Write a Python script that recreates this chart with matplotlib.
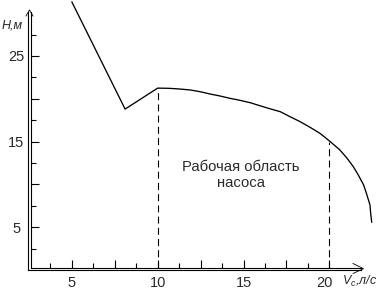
import matplotlib
matplotlib.use('Agg')
import matplotlib.pyplot as plt
from matplotlib.transforms import ScaledTranslation

plt.rcParams['font.family'] = ['Liberation Sans', 'DejaVu Sans']
plt.rcParams['mathtext.fontset'] = 'custom'
plt.rcParams['mathtext.rm'] = 'Liberation Sans'
plt.rcParams['mathtext.it'] = 'Liberation Sans:italic'

# ---- data ----
curve_v = [5.0, 8.1, 10.0, 10.7, 11.3, 11.9, 12.47, 13.05, 13.63, 14.2, 14.8,
           15.4, 15.96, 16.45, 17.15, 17.71, 18.3, 18.88, 19.45, 19.75, 20.05,
           20.6, 21.01, 21.4, 21.69, 22.0, 22.18, 22.37, 22.41, 22.47]
curve_h = [31.3, 18.8, 21.25, 21.22, 21.14, 21.03, 20.83, 20.56, 20.33, 20.06, 19.82,
           19.54, 19.19, 18.89, 18.49, 17.91, 17.33, 16.67, 15.97, 15.5, 15.0,
           14.06, 13.12, 12.07, 11.1, 9.94, 8.85, 7.6, 6.63, 5.6]
work_v = [10.0, 20.0]
work_h = [21.25, 15.0]
x_major = [5, 7.5, 10, 12.5, 15, 17.5, 20]
x_minor = [3.75, 6.25, 8.75, 11.25, 13.75, 16.25, 18.75]
x_labels = ['5', '', '10', '', '15', '', '20']
y_major = [5, 10, 15, 20, 25]
y_minor = [2.5, 7.5, 12.5, 17.5, 22.5, 27.5]
y_labels = ['5', '', '15', '', '25']
region_label = 'Рабочая область\nнасоса'
x_title = r'$V_c$,л/с'
y_title = 'Н,м'

W, H = 382, 293
fig = plt.figure(figsize=(W / 100, H / 100), dpi=100)
ax = fig.add_axes([0, 0, 1, 1])
X0, X1 = 0.81, 23.07
Y0, Y1 = -2.674, 31.536
ax.set_xlim(X0, X1)
ax.set_ylim(Y0, Y1)


def px(p):
    return X0 + (X1 - X0) * p / W


def py(p):
    return Y1 - (Y1 - Y0) * p / H


LW = 0.8
ink = 'black'

# axes (double lines)
for s in ('top', 'right'):
    ax.spines[s].set_visible(False)
ax.spines['left'].set_position(('data', px(30.5)))
ax.spines['left'].set_bounds(py(267.6), py(12))
ax.spines['bottom'].set_position(('data', py(267.6)))
ax.spines['bottom'].set_bounds(px(30.5), px(361))
for s in ('left', 'bottom'):
    ax.spines[s].set_linewidth(LW)
    ax.spines[s].set_color(ink)
ax.plot([px(28.4), px(28.4)], [py(269.8), py(12)], color=ink, lw=LW, clip_on=False)
ax.plot([px(28.4), px(361)], [py(269.8), py(269.8)], color=ink, lw=LW, clip_on=False)
# arrow heads
ax.plot([px(26), px(29.5), px(33)], [py(16), py(10), py(16)], color=ink, lw=0.6, clip_on=False)
ax.plot([px(353), px(363.5), px(353)], [py(263.5), py(268.7), py(273.5)], color=ink, lw=0.6, clip_on=False)

# ticks
ax.set_xticks(x_major, x_labels)
ax.set_xticks(x_minor, minor=True)
ax.set_yticks(y_major, y_labels)
ax.set_yticks(y_minor, minor=True)
ax.tick_params(which='both', direction='in', color=ink, width=LW,
               labelsize=10.5, labelcolor='#2a2a2a')
ax.tick_params(which='major', length=5.8)
ax.tick_params(which='minor', length=3.3)
ax.tick_params(axis='x', which='major', pad=6.0)
ax.tick_params(axis='y', which='major', pad=10.3)
for lbl in ax.get_yticklabels():
    lbl.set_horizontalalignment('center')
last = ax.xaxis.get_major_ticks()[-1].label1
last.set_transform(last.get_transform() + ScaledTranslation(-5 / 100, 0, fig.dpi_scale_trans))

# curve
ax.plot(curve_v, curve_h, color=ink, lw=0.95, solid_joinstyle='round', clip_on=True)

# working region bounds
for v, h in zip(work_v, work_h):
    ax.plot([v, v], [py(267.6), h], color=ink, lw=LW, dashes=(6.3, 3.8))

ax.text(px(241), py(175), region_label, ha='center', va='center',
        fontsize=10.7, color='#2a2a2a', linespacing=1.25)

ax.text(px(1.5), py(28), y_title, ha='left', va='baseline', fontsize=9,
        style='italic', color='#2a2a2a')
ax.text(px(341.5), py(285), x_title, ha='left', va='baseline', fontsize=9,
        style='italic', color='#2a2a2a')

fig.savefig('out.png', dpi=100, facecolor='white')
